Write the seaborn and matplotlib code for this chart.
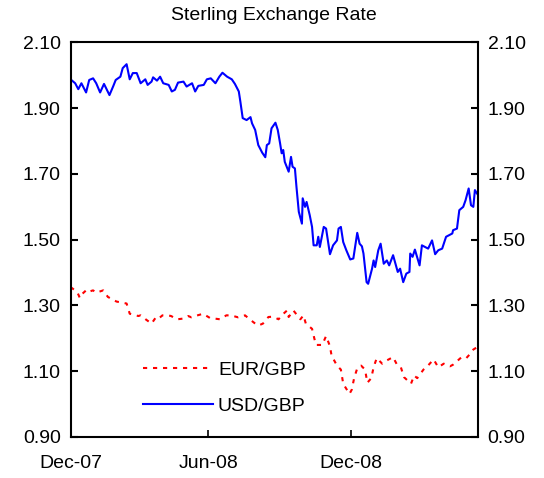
import matplotlib
matplotlib.use("Agg")
import matplotlib.pyplot as plt
import seaborn as sns
import pandas as pd

title = "Sterling Exchange Rate"
tick_dates = ["2007-12-07", "2008-06-01", "2008-12-01"]
tick_labels = ["Dec-07", "Jun-08", "Dec-08"]
x_range = ["2007-12-07", "2009-05-13"]
y_ticks = [0.90, 1.10, 1.30, 1.50, 1.70, 1.90, 2.10]

usd_dates = [
    "2007-12-07", "2007-12-13", "2007-12-17", "2007-12-21", "2007-12-27", "2007-12-31",
    "2008-01-05", "2008-01-09", "2008-01-14", "2008-01-19", "2008-01-26", "2008-01-31",
    "2008-02-03", "2008-02-09", "2008-02-12", "2008-02-17", "2008-02-21", "2008-02-25",
    "2008-03-01", "2008-03-06", "2008-03-12", "2008-03-15", "2008-03-20", "2008-03-22", "2008-03-27", "2008-03-31",
    "2008-04-04", "2008-04-11", "2008-04-15", "2008-04-19", "2008-04-23", "2008-04-30",
    "2008-05-04", "2008-05-11", "2008-05-15", "2008-05-19", "2008-05-26", "2008-05-30",
    "2008-06-04", "2008-06-10", "2008-06-15", "2008-06-19", "2008-06-25",
    "2008-07-01", "2008-07-05", "2008-07-10", "2008-07-12", "2008-07-15", "2008-07-20", "2008-07-25", "2008-07-27", "2008-07-31",
    "2008-08-04", "2008-08-09", "2008-08-13", "2008-08-15", "2008-08-18", "2008-08-21", "2008-08-26", "2008-08-29",
    "2008-09-01", "2008-09-03", "2008-09-05", "2008-09-07", "2008-09-12", "2008-09-15", "2008-09-17", "2008-09-20", "2008-09-22", "2008-09-25", "2008-09-29", "2008-09-30",
    "2008-10-03", "2008-10-05", "2008-10-09", "2008-10-12", "2008-10-14", "2008-10-18", "2008-10-20", "2008-10-22", "2008-10-27", "2008-10-30",
    "2008-11-02", "2008-11-04", "2008-11-08", "2008-11-13", "2008-11-15", "2008-11-18", "2008-11-21", "2008-11-25", "2008-11-30",
    "2008-12-04", "2008-12-09", "2008-12-12", "2008-12-15", "2008-12-17", "2008-12-21", "2008-12-23", "2008-12-28", "2008-12-30",
    "2009-01-01", "2009-01-05", "2009-01-08", "2009-01-12", "2009-01-16", "2009-01-19", "2009-01-24", "2009-01-27", "2009-01-30",
    "2009-02-02", "2009-02-06", "2009-02-10", "2009-02-14", "2009-02-15", "2009-02-18", "2009-02-21", "2009-02-27",
    "2009-03-02", "2009-03-06", "2009-03-10", "2009-03-15", "2009-03-19", "2009-03-23", "2009-03-28",
    "2009-04-02", "2009-04-10", "2009-04-11", "2009-04-16", "2009-04-19", "2009-04-24", "2009-04-27",
    "2009-05-01", "2009-05-04", "2009-05-07", "2009-05-09", "2009-05-13",
]
usd_gbp = [
    1.988, 1.976, 1.958, 1.976, 1.948, 1.986,
    1.991, 1.976, 1.948, 1.974, 1.940, 1.968,
    1.986, 1.996, 2.022, 2.034, 1.988, 2.007,
    2.007, 1.976, 1.988, 1.971, 1.981, 1.994, 1.984, 1.996,
    1.976, 1.971, 1.951, 1.956, 1.978, 1.981,
    1.966, 1.976, 1.951, 1.968, 1.971, 1.988,
    1.991, 1.976, 1.996, 2.008, 1.996,
    1.988, 1.974, 1.951, 1.920, 1.870, 1.864, 1.873, 1.854, 1.834,
    1.788, 1.765, 1.751, 1.788, 1.793, 1.839, 1.856, 1.834,
    1.793, 1.763, 1.773, 1.737, 1.707, 1.752, 1.722, 1.717, 1.661, 1.585, 1.549, 1.626,
    1.600, 1.615, 1.575, 1.539, 1.483, 1.483, 1.509, 1.478, 1.539, 1.534,
    1.488, 1.456, 1.483, 1.498, 1.534, 1.539, 1.493, 1.468, 1.440,
    1.443, 1.521, 1.488, 1.480, 1.458, 1.371, 1.366, 1.412, 1.437,
    1.417, 1.468, 1.488, 1.427, 1.437, 1.422, 1.453, 1.427, 1.402,
    1.412, 1.371, 1.397, 1.402, 1.458, 1.448, 1.470, 1.422,
    1.483, 1.478, 1.473, 1.498, 1.456, 1.468, 1.473,
    1.509, 1.519, 1.529, 1.534, 1.590, 1.600, 1.620,
    1.656, 1.605, 1.600, 1.651, 1.636,
]

eur_dates = [
    "2007-12-07", "2007-12-10", "2007-12-16", "2007-12-19", "2007-12-21", "2007-12-27", "2007-12-29",
    "2008-01-05", "2008-01-09", "2008-01-18", "2008-01-24",
    "2008-02-04", "2008-02-17", "2008-02-21",
    "2008-03-03", "2008-03-06", "2008-03-13", "2008-03-20", "2008-03-25", "2008-03-28",
    "2008-04-03", "2008-04-10", "2008-04-14", "2008-04-22", "2008-04-29",
    "2008-05-06", "2008-05-10", "2008-05-15", "2008-05-21", "2008-05-25",
    "2008-06-03", "2008-06-16", "2008-06-24", "2008-06-30",
    "2008-07-09", "2008-07-18", "2008-07-24", "2008-07-31",
    "2008-08-04", "2008-08-10", "2008-08-17", "2008-08-23", "2008-08-30",
    "2008-09-03", "2008-09-10", "2008-09-12", "2008-09-18", "2008-09-27",
    "2008-10-01", "2008-10-04", "2008-10-12", "2008-10-15", "2008-10-17", "2008-10-25", "2008-10-30",
    "2008-11-04", "2008-11-06", "2008-11-13", "2008-11-18", "2008-11-21", "2008-11-29",
    "2008-12-02", "2008-12-05", "2008-12-09", "2008-12-14", "2008-12-19", "2008-12-22", "2008-12-27", "2008-12-30",
    "2009-01-03", "2009-01-10", "2009-01-16", "2009-01-24", "2009-01-29",
    "2009-02-03", "2009-02-07", "2009-02-16", "2009-02-20", "2009-02-24",
    "2009-03-04", "2009-03-09", "2009-03-17", "2009-03-23", "2009-03-30",
    "2009-04-07", "2009-04-11", "2009-04-22", "2009-04-28",
    "2009-05-03", "2009-05-07", "2009-05-11",
]
eur_gbp = [
    1.356, 1.351, 1.339, 1.323, 1.333, 1.346, 1.341,
    1.346, 1.339, 1.346, 1.326,
    1.312, 1.306, 1.275,
    1.268, 1.270, 1.257, 1.245, 1.262, 1.258,
    1.270, 1.270, 1.268, 1.258, 1.260,
    1.268, 1.264, 1.268, 1.272, 1.275,
    1.262, 1.258, 1.270, 1.270,
    1.264, 1.270, 1.258, 1.245,
    1.239, 1.245, 1.265, 1.266, 1.258,
    1.270, 1.285, 1.265, 1.285, 1.258,
    1.270, 1.245, 1.229, 1.199, 1.180, 1.180, 1.207,
    1.176, 1.148, 1.117, 1.105, 1.062, 1.031,
    1.044, 1.079, 1.109, 1.117, 1.105, 1.065, 1.079, 1.112,
    1.140, 1.123, 1.133, 1.143, 1.120,
    1.112, 1.082, 1.062, 1.087, 1.079,
    1.105, 1.115, 1.136, 1.112, 1.123,
    1.115, 1.120, 1.143, 1.140,
    1.153, 1.166, 1.172,
]

plt.rcParams["font.family"] = ["Liberation Sans", "DejaVu Sans"]
plt.rcParams["font.size"] = 14

usd_df = pd.DataFrame({"date": pd.to_datetime(usd_dates), "rate": usd_gbp})
eur_df = pd.DataFrame({"date": pd.to_datetime(eur_dates), "rate": eur_gbp})

fig = plt.figure(figsize=(5.44, 4.78), dpi=100)
ax = fig.add_axes([0.1296, 0.0858, 0.8787 - 0.1296, 0.9111 - 0.0858])

sns.lineplot(data=eur_df, x="date", y="rate", ax=ax, color="#FF0000",
             linewidth=1.5, linestyle=(0, (2, 2.8)), label="EUR/GBP",
             errorbar=None)
sns.lineplot(data=usd_df, x="date", y="rate", ax=ax, color="#0000FF",
             linewidth=1.5, label="USD/GBP", errorbar=None)

ax.set_xlim(pd.to_datetime(x_range[0]), pd.to_datetime(x_range[1]))
ax.set_ylim(y_ticks[0], y_ticks[-1])
ax.set_yticks(y_ticks)
ax.set_yticklabels([f"{v:.2f}" for v in y_ticks])
ax.set_xticks(pd.to_datetime(tick_dates))
ax.set_xticklabels(tick_labels)
ax.set_xlabel("")
ax.set_ylabel("")

for s in ax.spines.values():
    s.set_linewidth(1.5)
    s.set_color("black")

ax.tick_params(axis="y", direction="in", length=5, width=1.5,
               left=True, right=True, labelleft=True, labelright=True, pad=7)
ax.tick_params(axis="x", direction="in", length=5, width=1.2, pad=13)

ax.set_title(title, fontsize=14, pad=16)

leg = ax.legend(loc="upper left", bbox_to_anchor=(0.178, 0.192), frameon=False,
                borderaxespad=0, borderpad=0, handlelength=3.6,
                handletextpad=0.25, labelspacing=0.95, fontsize=14)

fig.savefig("out.png", dpi=100, facecolor="white")
